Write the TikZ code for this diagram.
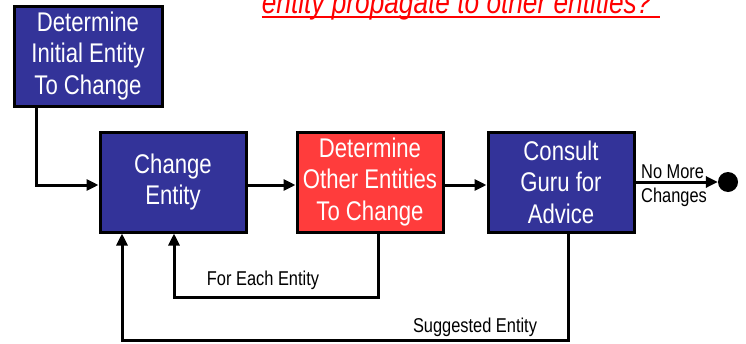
\documentclass[tikz,border=0pt]{standalone}
\usepackage{fontspec}
\setmainfont{Liberation Sans}[FakeStretch=0.82]
\usetikzlibrary{arrows.meta}
\definecolor{boxblue}{RGB}{51,51,153}
\definecolor{boxred}{RGB}{255,60,60}
\definecolor{titlered}{RGB}{255,0,0}
\tikzset{
  x=1pt, y=-1pt,
  stepbox/.style={draw=black, line width=3pt, text=white, align=center,
    minimum width=146pt, minimum height=100pt, inner sep=0pt,
    font=\fontsize{27}{31.5}\selectfont},
  flow/.style={line width=3pt, -{Triangle[length=12pt,width=11pt]}},
  wire/.style={line width=3pt},
  lbl/.style={font=\fontsize{20}{22}\selectfont, inner sep=0pt},
}
\begin{document}
\begin{tikzpicture}
\useasboundingbox (0,0) rectangle (746,343);
\clip (0,0) rectangle (746,343);
\fill[white] (0,0) rectangle (746,343);

% heading line, cut by the top edge
\node[font=\fontsize{32}{34}\selectfont\itshape, text=titlered, inner sep=0pt, anchor=base]
  (title) at (461,13) {entity propagate to other entities?"};
\draw[titlered, line width=2pt] ([yshift=-4pt]title.base west) -- ([yshift=-4pt]title.base east);

% process steps
\node[stepbox, fill=boxblue, minimum width=148pt] (init) at (88,56) {Determine\\Initial Entity\\To Change};
\node[stepbox, fill=boxblue] (change) at (173,182) {Change\\Entity};
\node[stepbox, fill=boxred] (other) at (370,182) {Determine\\Other Entities\\To Change};
\node[stepbox, fill=boxblue] (guru) at (561,182) {Consult\\Guru for\\Advice};
\node[circle, fill=black, minimum size=20pt, inner sep=0pt] (done) at (728,182) {};

% forward flow
\coordinate (startbend) at (36,185);
\draw[flow] (init.south -| startbend) -- (startbend) -- (change.west |- startbend);
\draw[flow] ([yshift=-3pt]change.east) -- ([yshift=-3pt]other.west);
\draw[flow] ([yshift=-3pt]other.east) -- ([yshift=-3pt]guru.west);
\draw[flow] (guru.east) -- (done.west);
\node[lbl, anchor=west] (nomore) at (641,172) {No More};
\node[lbl, anchor=west] (changes) at (641,197) {Changes};

% loop over each entity
\coordinate (eachR) at (378,297);
\coordinate (eachL) at (174,297);
\draw[flow] (other.south -| eachR) -- (eachR) -- (eachL) -- (change.south -| eachL);
\node[lbl] (eachlbl) at (263,280) {For Each Entity};

% loop back with a suggested entity
\coordinate (sugR) at (568,340);
\coordinate (sugL) at (122,340);
\draw[flow] (guru.south -| sugR) -- (sugR) -- (sugL) -- (change.south -| sugL);
\node[lbl] (suglbl) at (475,327) {Suggested Entity};
\end{tikzpicture}
\end{document}
